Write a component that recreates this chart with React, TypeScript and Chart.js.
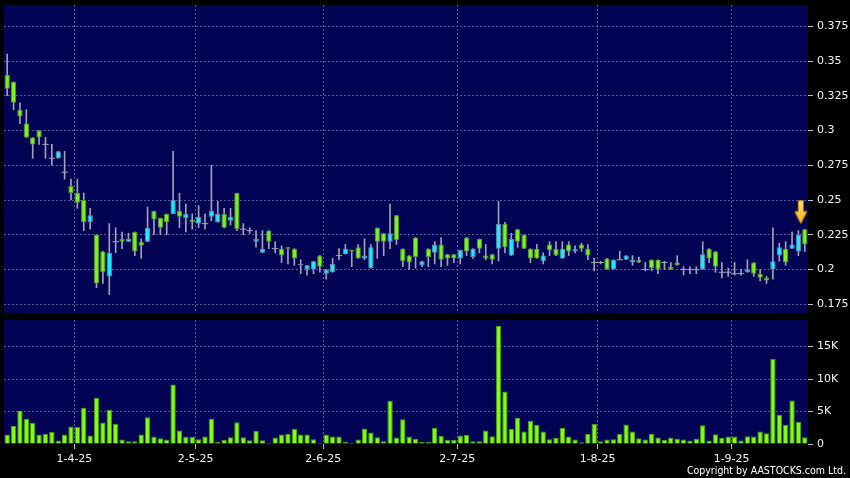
import React, { useEffect, useRef } from "react";
import { Chart, registerables } from "chart.js";
Chart.register(...registerables);

// Trading days (d-m-yy)
const DATES = [
  "17-3-25","18-3-25","19-3-25","20-3-25","21-3-25","24-3-25","25-3-25","26-3-25","27-3-25","28-3-25","31-3-25",
  "1-4-25","2-4-25","3-4-25","7-4-25","8-4-25","9-4-25","10-4-25","11-4-25","14-4-25","15-4-25","16-4-25","17-4-25","22-4-25","23-4-25","24-4-25","25-4-25","28-4-25","29-4-25","30-4-25",
  "2-5-25","6-5-25","7-5-25","8-5-25","9-5-25","12-5-25","13-5-25","14-5-25","15-5-25","16-5-25","19-5-25","20-5-25","21-5-25","22-5-25","23-5-25","26-5-25","27-5-25","28-5-25","29-5-25","30-5-25",
  "2-6-25","3-6-25","4-6-25","5-6-25","6-6-25","9-6-25","10-6-25","11-6-25","12-6-25","13-6-25","16-6-25","17-6-25","18-6-25","19-6-25","20-6-25","23-6-25","24-6-25","25-6-25","26-6-25","27-6-25","30-6-25",
  "2-7-25","3-7-25","4-7-25","7-7-25","8-7-25","9-7-25","10-7-25","11-7-25","14-7-25","15-7-25","16-7-25","17-7-25","18-7-25","21-7-25","22-7-25","23-7-25","24-7-25","25-7-25","28-7-25","29-7-25","30-7-25","31-7-25",
  "1-8-25","4-8-25","5-8-25","6-8-25","7-8-25","8-8-25","11-8-25","12-8-25","13-8-25","14-8-25","15-8-25","18-8-25","19-8-25","20-8-25","21-8-25","22-8-25","25-8-25","26-8-25","27-8-25","28-8-25","29-8-25",
  "1-9-25","2-9-25","3-9-25","4-9-25","5-9-25","8-9-25","9-9-25","10-9-25","11-9-25","12-9-25","15-9-25","16-9-25",
];

const OPEN = [
  0.34,0.335,0.315,0.305,0.295,0.3,0.29,0.28,0.28,0.27,
  0.26,0.255,0.25,0.234,0.225,0.213,0.195,0.22,0.222,0.22,
  0.227,0.22,0.22,0.242,0.237,0.24,0.24,0.242,0.237,0.236,
  0.233,0.233,0.238,0.234,0.24,0.235,0.255,0.229,0.228,0.22,
  0.212,0.228,0.215,0.215,0.216,0.215,0.203,0.2,0.2,0.21,
  0.197,0.198,0.21,0.211,0.214,0.216,0.208,0.201,0.23,0.226,
  0.22,0.239,0.215,0.21,0.223,0.203,0.215,0.212,0.218,0.211,
  0.211,0.208,0.223,0.209,0.222,0.21,0.211,0.215,0.233,0.21,
  0.229,0.225,0.215,0.215,0.206,0.218,0.215,0.208,0.218,0.213,
  0.218,0.215,0.205,0.205,0.208,0.2,0.207,0.207,0.205,0.207,
  0.2,0.207,0.207,0.205,0.202,0.205,0.2,0.2,0.2,0.2,
  0.215,0.213,0.198,0.198,0.197,0.197,0.198,0.205,0.197,0.194,
  0.2,0.21,0.215,0.215,0.213,0.229,
];
const HIGH = [
  0.355,0.335,0.32,0.315,0.295,0.3,0.295,0.29,0.285,0.285,
  0.265,0.265,0.255,0.244,0.225,0.213,0.233,0.23,0.227,0.226,
  0.227,0.222,0.245,0.242,0.237,0.24,0.285,0.255,0.247,0.24,
  0.246,0.24,0.275,0.249,0.244,0.244,0.255,0.233,0.23,0.228,
  0.228,0.228,0.22,0.217,0.216,0.215,0.207,0.203,0.206,0.21,
  0.2,0.208,0.215,0.218,0.214,0.218,0.222,0.218,0.23,0.226,
  0.247,0.239,0.215,0.21,0.223,0.206,0.215,0.22,0.223,0.211,
  0.211,0.214,0.223,0.215,0.222,0.218,0.211,0.249,0.234,0.226,
  0.229,0.225,0.215,0.218,0.212,0.22,0.22,0.22,0.22,0.217,
  0.219,0.218,0.208,0.206,0.208,0.207,0.213,0.21,0.21,0.209,
  0.205,0.207,0.207,0.206,0.205,0.21,0.202,0.202,0.202,0.22,
  0.215,0.213,0.205,0.201,0.205,0.2,0.207,0.205,0.2,0.195,
  0.23,0.219,0.22,0.227,0.228,0.229,
];
const LOW = [
  0.325,0.315,0.305,0.295,0.28,0.29,0.28,0.275,0.28,0.265,
  0.25,0.244,0.228,0.229,0.187,0.19,0.182,0.212,0.215,0.22,
  0.21,0.208,0.22,0.225,0.225,0.225,0.24,0.23,0.227,0.229,
  0.23,0.229,0.235,0.234,0.23,0.232,0.228,0.225,0.226,0.216,
  0.212,0.215,0.212,0.205,0.204,0.203,0.197,0.196,0.197,0.198,
  0.193,0.198,0.207,0.211,0.202,0.208,0.207,0.201,0.208,0.21,
  0.215,0.218,0.202,0.2,0.201,0.202,0.202,0.204,0.202,0.203,
  0.205,0.204,0.21,0.208,0.212,0.207,0.204,0.206,0.212,0.21,
  0.216,0.215,0.205,0.208,0.204,0.21,0.21,0.208,0.21,0.212,
  0.213,0.207,0.199,0.204,0.2,0.2,0.207,0.207,0.203,0.205,
  0.199,0.199,0.197,0.2,0.2,0.203,0.196,0.197,0.197,0.2,
  0.205,0.198,0.194,0.195,0.196,0.196,0.198,0.195,0.192,0.19,
  0.193,0.206,0.203,0.215,0.21,0.213,
];
const CLOSE = [
  0.33,0.32,0.31,0.295,0.29,0.295,0.29,0.28,0.285,0.27,
  0.255,0.248,0.234,0.239,0.19,0.198,0.212,0.22,0.22,0.222,
  0.213,0.217,0.23,0.236,0.23,0.234,0.25,0.238,0.24,0.234,
  0.238,0.233,0.242,0.24,0.23,0.238,0.229,0.229,0.228,0.222,
  0.215,0.22,0.215,0.21,0.215,0.208,0.204,0.203,0.206,0.202,
  0.2,0.204,0.21,0.215,0.213,0.208,0.21,0.216,0.22,0.22,
  0.226,0.221,0.206,0.205,0.209,0.206,0.209,0.218,0.207,0.208,
  0.208,0.214,0.213,0.215,0.215,0.208,0.207,0.233,0.216,0.222,
  0.22,0.215,0.208,0.208,0.21,0.214,0.21,0.215,0.213,0.215,
  0.215,0.21,0.205,0.205,0.2,0.207,0.207,0.21,0.207,0.205,
  0.2,0.201,0.2,0.205,0.2,0.203,0.2,0.2,0.2,0.211,
  0.208,0.202,0.198,0.198,0.197,0.197,0.2,0.197,0.194,0.192,
  0.206,0.216,0.205,0.218,0.225,0.218,
];
const VOLUME = [
  1460,2800,5150,3870,3260,1460,1560,1870,540,1460,
  2700,2600,5560,1300,7100,3300,5260,3100,690,440,
  440,1460,4130,1150,900,690,9150,2080,1100,1100,
  740,1150,3870,330,640,1050,3360,1050,590,2030,
  590,180,1000,1460,1560,2330,1460,1460,740,180,
  1460,1150,1150,330,180,690,2400,1770,1050,440,
  6600,1000,3800,1150,790,330,330,2490,1260,640,
  640,1300,1410,440,440,2080,1200,18200,8080,2330,
  4030,1920,3560,2950,1920,740,950,2490,1150,690,
  280,1560,3100,440,690,740,1560,3000,1920,900,
  690,1560,1000,640,1000,800,690,540,800,2900,
  540,1510,950,1150,1150,540,1200,1150,1920,1670,
  13100,4490,2950,6690,3410,1050,
];

const MONTH_TICKS = ["1-4-25", "2-5-25", "2-6-25", "2-7-25", "1-8-25", "1-9-25"];
const PRICE_TICKS = [0.175, 0.2, 0.225, 0.25, 0.275, 0.3, 0.325, 0.35, 0.375];
const VOLUME_TICKS = [0, 5000, 10000, 15000];
const PRICE_MIN = 0.1687;
const PRICE_MAX = 0.3903;
const VOLUME_MAX = 19080;
const ARROW_PRICE = 0.241;

const NAVY = "#020254";
const GRID = "#54549a";
const TICK_C = "#b8b8c8";
const TEXT = "#f2f2f2";
const GREEN = "#80f020";
const GREEN_EDGE = "#4f9a30";
const CYAN = "#24e8ff";
const CYAN_EDGE = "#5c8cb4";
const WICK = "#a0a0b8";
const VOL_FILL = "#80ff10";
const VOL_EDGE = "#48a010";
const FONT = { family: "'DejaVu Sans', Verdana, sans-serif", size: 11 };
const CLEAR = "rgba(0,0,0,0)";

const isMonthStart = (i: number) => i >= 0 && i < DATES.length && MONTH_TICKS.includes(DATES[i]);

const plotBg = {
  id: "plotBg",
  beforeDraw(chart: any) {
    const { ctx, chartArea: a } = chart;
    ctx.save();
    ctx.fillStyle = NAVY;
    ctx.fillRect(a.left, a.top, a.right - a.left, a.bottom - a.top);
    ctx.restore();
  },
};

function xAxis(showLabels: boolean): any {
  return {
    type: "category",
    offset: true,
    grid: {
      offset: true,
      color: (c: any) => (isMonthStart(c.index) ? GRID : CLEAR),
      tickColor: (c: any) => (isMonthStart(c.index) ? TICK_C : CLEAR),
      drawTicks: showLabels,
      tickLength: 5,
      lineWidth: 1,
    },
    border: { display: false, dash: [2, 2] },
    ticks: {
      display: showLabels,
      autoSkip: false,
      maxRotation: 0,
      minRotation: 0,
      labelOffset: -3,
      padding: 4,
      color: TEXT,
      font: FONT,
      callback: (_v: any, i: number) => (isMonthStart(i) ? DATES[i] : ""),
    },
    afterFit: (s: any) => {
      s.height = showLabels ? 34 : 0;
      s.paddingLeft = 0;
      s.paddingRight = 0;
      s.paddingTop = 0;
      s.paddingBottom = 0;
    },
  };
}

function yAxis(min: number, max: number, tickValues: number[], fmt: (v: number) => string, hideZeroGrid: boolean): any {
  return {
    position: "right",
    min,
    max,
    afterBuildTicks: (s: any) => {
      s.ticks = tickValues.map((v) => ({ value: v }));
    },
    afterFit: (s: any) => {
      s.width = 42;
      s.paddingTop = 0;
      s.paddingBottom = 0;
      s.paddingLeft = 0;
      s.paddingRight = 0;
    },
    grid: {
      color: (c: any) => (hideZeroGrid && c.tick && c.tick.value === 0 ? CLEAR : GRID),
      tickColor: TICK_C,
      tickLength: 5,
      drawTicks: true,
      lineWidth: 1,
    },
    border: { display: false, dash: [2, 2] },
    ticks: {
      color: TEXT,
      font: FONT,
      padding: 4,
      autoSkip: false,
      callback: (v: any) => fmt(Number(v)),
    },
  };
}

function makeArrow(): HTMLCanvasElement {
  const c = document.createElement("canvas");
  c.width = 22;
  c.height = 26;
  const g = c.getContext("2d")!;
  const cx = 7;
  g.beginPath();
  g.moveTo(cx - 2.5, 1);
  g.lineTo(cx + 2.5, 1);
  g.lineTo(cx + 2.5, 12);
  g.lineTo(cx + 6, 12);
  g.lineTo(cx, 24);
  g.lineTo(cx - 6, 12);
  g.lineTo(cx - 2.5, 12);
  g.closePath();
  const grad = g.createLinearGradient(0, 0, 0, 24);
  grad.addColorStop(0, "#ffe66a");
  grad.addColorStop(1, "#f4b020");
  g.fillStyle = grad;
  g.fill();
  g.strokeStyle = "#c88a00";
  g.lineWidth = 1;
  g.stroke();
  return c;
}

export default function App() {
  const priceRef = useRef<HTMLCanvasElement>(null);
  const volRef = useRef<HTMLCanvasElement>(null);

  useEffect(() => {
    const bodyData = OPEN.map((o, i) =>
      o === CLOSE[i] ? null : [Math.min(o, CLOSE[i]), Math.max(o, CLOSE[i])]
    );
    const wickData = LOW.map((l, i) => [l, HIGH[i]]);
    const dojiData = OPEN.map((o, i) => (o === CLOSE[i] ? o : null));
    const up = OPEN.map((o, i) => CLOSE[i] > o);
    const arrowData = DATES.map((_d, i) => (i === DATES.length - 1 ? ARROW_PRICE : null));
    const arrow = makeArrow();

    const price = new Chart(priceRef.current!, {
      type: "bar",
      data: {
        labels: DATES,
        datasets: [
          {
            type: "line",
            data: arrowData as any,
            showLine: false,
            pointStyle: arrow as any,
            pointRadius: 10,
            clip: false,
            order: 0,
          } as any,
          {
            type: "line",
            data: dojiData as any,
            showLine: false,
            pointStyle: "line",
            pointRadius: 3.2,
            pointBorderWidth: 1,
            borderColor: WICK,
            pointBorderColor: WICK,
            order: 1,
          } as any,
          {
            type: "bar",
            data: bodyData as any,
            backgroundColor: up.map((u) => (u ? CYAN : GREEN)),
            borderColor: up.map((u) => (u ? CYAN_EDGE : GREEN_EDGE)),
            borderWidth: 1,
            borderSkipped: false,
            barPercentage: 0.84,
            categoryPercentage: 1,
            grouped: false,
            order: 2,
          } as any,
          {
            type: "bar",
            data: wickData as any,
            backgroundColor: WICK,
            borderWidth: 0,
            barThickness: 1,
            grouped: false,
            order: 3,
          } as any,
        ],
      },
      options: {
        responsive: false,
        animation: false,
        devicePixelRatio: 1,
        events: [],
        layout: { autoPadding: false, padding: { left: 4, top: 5, right: 0, bottom: 3 } },
        plugins: { legend: { display: false }, tooltip: { enabled: false } },
        scales: {
          x: xAxis(false),
          y: yAxis(PRICE_MIN, PRICE_MAX, PRICE_TICKS, (v) => String(Number(v.toFixed(3))), false),
        },
      } as any,
      plugins: [plotBg],
    });

    const vol = new Chart(volRef.current!, {
      type: "bar",
      data: {
        labels: DATES,
        datasets: [
          {
            data: VOLUME,
            backgroundColor: VOL_FILL,
            borderColor: VOL_EDGE,
            borderWidth: 1,
            barPercentage: 0.84,
            categoryPercentage: 1,
          },
        ],
      },
      options: {
        responsive: false,
        animation: false,
        devicePixelRatio: 1,
        events: [],
        layout: { autoPadding: false, padding: { left: 4, top: 4, right: 0, bottom: 0 } },
        plugins: { legend: { display: false }, tooltip: { enabled: false } },
        scales: {
          x: xAxis(true),
          y: yAxis(0, VOLUME_MAX, VOLUME_TICKS, (v) => (v === 0 ? "0" : v / 1000 + "K"), true),
        },
      } as any,
      plugins: [plotBg],
    });

    return () => {
      price.destroy();
      vol.destroy();
    };
  }, []);

  return (
    <div
      style={{
        position: "fixed",
        left: 0,
        top: 0,
        width: 850,
        height: 478,
        background: "#000",
        overflow: "hidden",
      }}
    >
      <canvas ref={priceRef} width={850} height={316} style={{ position: "absolute", left: 0, top: 0 }} />
      <canvas ref={volRef} width={850} height={162} style={{ position: "absolute", left: 0, top: 316 }} />
      <div
        style={{
          position: "absolute",
          right: 4,
          top: 464,
          color: "#ffffff",
          fontFamily: "'DejaVu Sans Condensed', 'DejaVu Sans', sans-serif",
          fontSize: "10.5px",
          lineHeight: "12px",
          whiteSpace: "nowrap",
        }}
      >
        Copyright by AASTOCKS.com Ltd.
      </div>
    </div>
  );
}
